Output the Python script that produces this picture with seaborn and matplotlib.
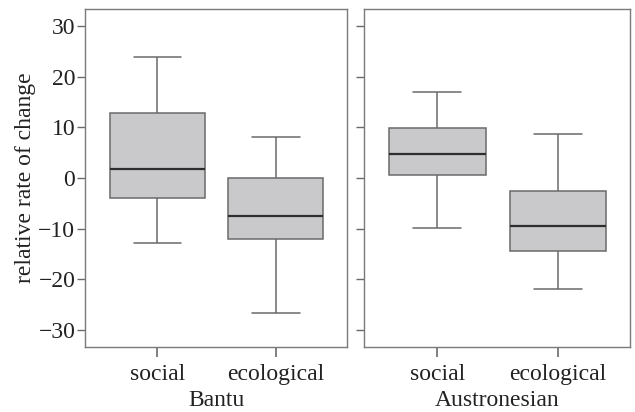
import numpy as np
import pandas as pd
import matplotlib
matplotlib.use("Agg")
import matplotlib.pyplot as plt
import seaborn as sns

# summary values: [whisker low, Q1, median, Q3, whisker high]
categories = ["social", "ecological"]
bantu_social = [-12.8, -4.0, 1.8, 12.8, 23.9]
bantu_ecological = [-26.7, -12.0, -7.6, 0.0, 8.1]
austro_social = [-9.8, 0.5, 4.7, 9.8, 17.0]
austro_ecological = [-22.0, -14.5, -9.5, -2.6, 8.7]
panels = ["Bantu", "Austronesian"]
yticks = [-30, -20, -10, 0, 10, 20, 30]

sns.set_theme(style="ticks")
plt.rcParams['font.family'] = ['Liberation Serif', 'DejaVu Serif']
plt.rcParams['xtick.bottom'] = True
plt.rcParams['ytick.left'] = True
plt.rcParams['xtick.major.size'] = 7
plt.rcParams['ytick.major.size'] = 6

rows = []
for fam, (s, e) in zip(panels, [(bantu_social, bantu_ecological), (austro_social, austro_ecological)]):
    for cat, vals in zip(categories, [s, e]):
        for v in vals:
            rows.append({"family": fam, "type": cat, "value": v})
df = pd.DataFrame(rows)

fig = plt.figure(figsize=(6.35, 4.12), dpi=100)
ax1 = fig.add_axes([85/635, 1 - 347/412, 262/635, 338/412])
ax2 = fig.add_axes([364/635, 1 - 347/412, 266/635, 338/412])

edge = "#6a6a6a"
fs = 17
for ax, fam in zip([ax1, ax2], panels):
    sub = df[df.family == fam]
    sns.boxplot(data=sub, x="type", y="value", order=categories, ax=ax,
                whis=(0, 100), width=0.8, color="#c9c9cb", saturation=1,
                linecolor=edge, linewidth=1.1,
                medianprops=dict(color="#2e2e2e", linewidth=1.6),
                capprops=dict(color=edge), whiskerprops=dict(color=edge),
                boxprops=dict(edgecolor=edge), showfliers=False)
    ax.set_ylim(-33.4, 33.4)
    ax.set_xlim(-0.61, 1.6)
    ax.set_yticks(yticks)
    ax.set_xlabel(fam, fontsize=fs, color="#222222", labelpad=4)
    ax.tick_params(axis="y", which="major", direction="out", length=6, width=1,
                   color=edge, labelsize=fs, labelcolor="#222222", left=True, pad=1)
    ax.tick_params(axis="x", which="major", direction="out", length=7, width=1.2,
                   color=edge, labelsize=fs, labelcolor="#222222", bottom=True, pad=5)
    for sp in ax.spines.values():
        sp.set_visible(True)
        sp.set_color("#7a7a7a")
        sp.set_linewidth(1.0)

ax1.set_ylabel("relative rate of change", fontsize=fs, color="#222222", labelpad=2)
ax2.set_ylabel("")
ax2.set_yticklabels([])

fig.savefig("out.png", dpi=100)
